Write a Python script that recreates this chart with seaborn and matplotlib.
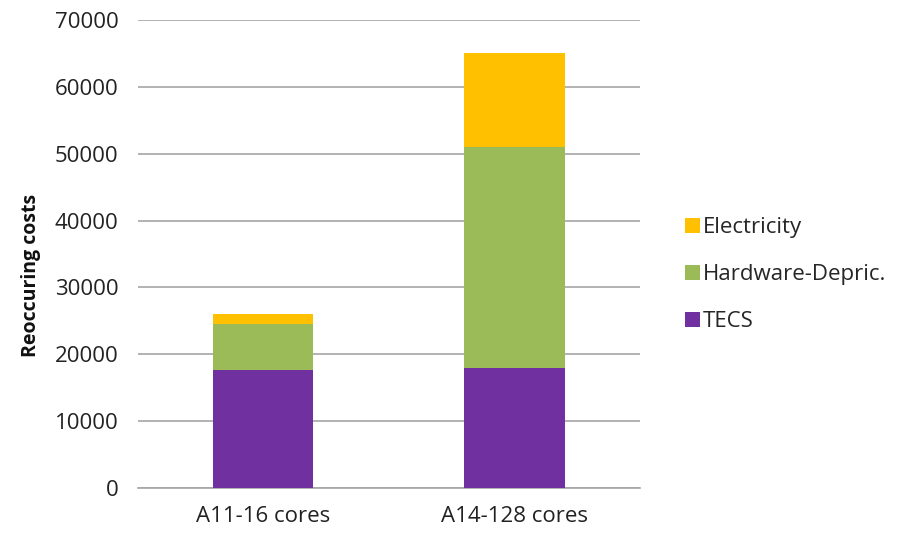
import matplotlib
matplotlib.use("Agg")
import matplotlib.pyplot as plt
import seaborn as sns
import pandas as pd
import numpy as np
from matplotlib.patches import Patch

categories = ["A11-16 cores", "A14-128 cores"]
tecs = [17700, 17900]
hardware = [6800, 33100]
electricity = [1500, 14000]
series_names = ["TECS", "Hardware-Depric.", "Electricity"]
colors = {"TECS": "#7030A0", "Hardware-Depric.": "#9BBB59", "Electricity": "#FFC000"}

sns.set_theme(style="white")
plt.rcParams['font.family'] = ['Open Sans', 'DejaVu Sans']

fig = plt.figure(figsize=(9, 5.37), dpi=100)
ax = fig.add_axes([0.153, 0.091, 0.558, 0.872])

layers = [tecs, hardware, electricity]
cum = np.cumsum(np.array(layers), axis=0)
for name, vals in reversed(list(zip(series_names, cum))):
    df = pd.DataFrame({"cat": categories, "val": vals})
    sns.barplot(data=df, x="cat", y="val", color=colors[name], width=0.4,
                ax=ax, saturation=1, zorder=3, linewidth=0)

ax.set_ylim(0, 70000)
ax.set_xlim(-0.5, 1.5)
ax.set_yticks(range(0, 70001, 10000))
ax.yaxis.grid(True, color="#A6A6A6", linewidth=1.2, zorder=0)
ax.set_axisbelow(True)
for s in ["top", "right", "left"]:
    ax.spines[s].set_visible(False)
ax.spines["bottom"].set_color("#A6A6A6")
ax.spines["bottom"].set_linewidth(1.2)
ax.set_xlabel("")
ax.set_ylabel("Reoccuring costs", fontsize=14, fontweight="bold", color="#111111")
ax.yaxis.set_label_coords(-0.193, 0.455)
ax.tick_params(axis="y", length=0, labelsize=16, colors="#222222", pad=14)
ax.tick_params(axis="x", length=0, labelsize=16, colors="#222222", pad=13)
ax.set_xticks([0, 1])
ax.set_xticks([-0.5, 1.5], minor=True)
ax.tick_params(axis="x", which="minor", length=6, color="#A6A6A6", width=1.2, direction="out")

handles = [Patch(facecolor=colors[n], edgecolor="none") for n in ["Electricity", "Hardware-Depric.", "TECS"]]
fig.legend(handles, ["Electricity", "Hardware-Depric.", "TECS"], loc="center left",
           bbox_to_anchor=(0.739, 0.488), frameon=False, fontsize=16,
           handlelength=0.65, handleheight=0.65, handletextpad=0.15, labelspacing=1.17)

fig.savefig("out.png", dpi=100)
